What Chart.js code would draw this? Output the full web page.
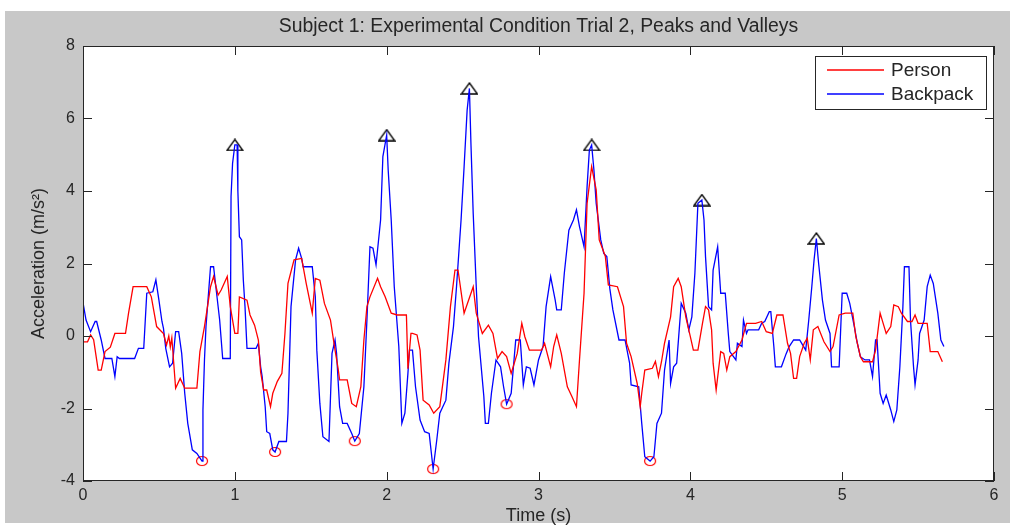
<!DOCTYPE html>
<html>
<head>
<meta charset="utf-8">
<script src="https://cdn.jsdelivr.net/npm/chart.js@4.4.1/dist/chart.umd.min.js"></script>
<style>
  html, body { margin: 0; padding: 0; background: #fff; }
  #wrap { width: 1010px; height: 527px; }
</style>
</head>
<body>
<div id="wrap"><canvas id="accel-chart" width="1010" height="527"></canvas></div>
<script>
// Acceleration traces (time in s, acceleration in m/s^2)
const personTime = [
  0.00, 0.03, 0.05, 0.07, 0.10, 0.12, 0.145, 0.18, 0.21, 0.28, 0.30, 0.33, 0.42, 0.45, 0.485,
  0.53, 0.55, 0.565, 0.575, 0.585, 0.61, 0.64, 0.67, 0.75, 0.77, 0.80, 0.84, 0.86, 0.89, 0.91,
  0.95, 0.97, 1.00, 1.02, 1.03, 1.08, 1.10, 1.13, 1.155, 1.17, 1.19, 1.21, 1.235, 1.25, 1.28,
  1.31, 1.33, 1.35, 1.39, 1.44, 1.47, 1.51, 1.53, 1.56, 1.59, 1.63, 1.66, 1.68, 1.69, 1.74,
  1.77, 1.80, 1.83, 1.85, 1.87, 1.89, 1.94, 1.96, 1.99, 2.03, 2.07, 2.13, 2.14, 2.16, 2.17,
  2.20, 2.22, 2.24, 2.28, 2.31, 2.35, 2.39, 2.42, 2.45, 2.47, 2.51, 2.57, 2.59, 2.63, 2.67,
  2.70, 2.73, 2.76, 2.79, 2.82, 2.86, 2.89, 2.91, 2.94, 3.02, 3.04, 3.08, 3.10, 3.12, 3.15,
  3.19, 3.22, 3.25, 3.27, 3.30, 3.32, 3.35, 3.38, 3.40, 3.44, 3.46, 3.52, 3.56, 3.58, 3.61,
  3.65, 3.67, 3.68, 3.70, 3.75, 3.77, 3.79, 3.81, 3.83, 3.87, 3.89, 3.92, 3.94, 3.97, 4.00,
  4.02, 4.05, 4.08, 4.10, 4.12, 4.14, 4.15, 4.17, 4.20, 4.22, 4.24, 4.26, 4.30, 4.34, 4.37,
  4.43, 4.47, 4.50, 4.54, 4.57, 4.61, 4.64, 4.66, 4.68, 4.70, 4.72, 4.75, 4.77, 4.79, 4.81,
  4.84, 4.88, 4.92, 4.94, 4.98, 5.02, 5.07, 5.09, 5.12, 5.14, 5.20, 5.22, 5.25, 5.27, 5.29,
  5.32, 5.34, 5.37, 5.39, 5.43, 5.46, 5.48, 5.50, 5.56, 5.58, 5.63, 5.66
];
const personAccel = [
  -0.16, -0.16, 0.03, -0.10, -0.94, -0.94, -0.43, -0.31, 0.07, 0.07, 0.63, 1.36, 1.36, 1.08, 0.26,
  0.07, -0.25, 0.00, -0.30, -0.05, -1.44, -1.17, -1.44, -1.44, -0.43, 0.26, 1.36, 1.64, 1.13, 1.27,
  1.64, 0.81, 0.07, 0.07, 1.08, 0.99, 0.58, 0.30, -0.11, -1.00, -1.49, -1.49, -1.95, -1.58, -1.25,
  -1.03, 0.07, 1.45, 2.10, 2.14, 1.45, 0.63, 1.59, 1.54, 0.90, 0.44, -0.39, -0.89, -1.21, -1.21,
  -1.86, -1.95, -1.40, -0.11, 0.81, 1.08, 1.59, 1.36, 1.08, 0.63, 0.58, 0.58, -0.90, 0.07, 0.07,
  0.03, -0.39, -1.77, -1.90, -2.13, -1.95, -0.66, 0.81, 1.82, 1.82, 0.63, 1.36, 0.63, 0.07, 0.30,
  0.07, -0.62, -0.43, -0.57, -1.03, -0.48, 0.35, -0.02, -0.39, -0.39, -0.20, -0.85, -0.29, 0.03, -0.48,
  -1.40, -1.67, -1.95, -0.66, 1.18, 3.66, 4.67, 4.03, 2.65, 2.20, 1.41, 1.36, 0.81, -0.20, -0.57,
  -1.31, -1.95, -1.58, -0.94, -0.89, -0.70, -1.12, -0.71, -0.20, 0.53, 1.36, 1.59, 1.36, 0.53, -0.02,
  -0.39, -0.39, 0.35, 0.81, 0.72, 0.17, -0.75, -1.49, -0.43, -0.48, -0.94, -0.57, -0.43, -0.11, 0.35,
  0.35, 0.40, 0.12, 0.07, 0.58, 0.58, -0.20, -0.48, -1.17, -1.17, -0.57, -0.20, -0.06, -0.66, 0.17,
  0.26, -0.16, -0.43, -0.29, 0.58, 0.63, 0.63, -0.02, -0.57, -0.71, -0.71, -0.39, 0.63, 0.35, 0.07,
  0.26, 0.86, 0.81, 0.63, 0.40, 0.40, 0.58, 0.35, 0.35, -0.43, -0.43, -0.71
];

const backpackTime = [
  0.00, 0.02, 0.05, 0.08, 0.09, 0.12, 0.145, 0.19, 0.21, 0.225, 0.24, 0.34, 0.365, 0.40, 0.42,
  0.46, 0.48, 0.50, 0.52, 0.53, 0.545, 0.57, 0.59, 0.61, 0.63, 0.65, 0.67, 0.69, 0.72, 0.75,
  0.784, 0.79, 0.80, 0.81, 0.84, 0.86, 0.875, 0.90, 0.92, 0.96, 0.97, 0.975, 0.985, 1.00, 1.015,
  1.02, 1.03, 1.045, 1.056, 1.067, 1.08, 1.14, 1.155, 1.17, 1.18, 1.20, 1.21, 1.23, 1.25, 1.265,
  1.29, 1.34, 1.35, 1.37, 1.40, 1.42, 1.44, 1.45, 1.51, 1.53, 1.54, 1.56, 1.58, 1.62, 1.64,
  1.66, 1.67, 1.69, 1.71, 1.74, 1.77, 1.79, 1.82, 1.85, 1.87, 1.89, 1.91, 1.93, 1.96, 1.975,
  2.00, 2.01, 2.03, 2.05, 2.08, 2.10, 2.12, 2.14, 2.15, 2.17, 2.19, 2.22, 2.25, 2.28, 2.306,
  2.33, 2.35, 2.39, 2.41, 2.44, 2.46, 2.49, 2.51, 2.53, 2.545, 2.555, 2.57, 2.59, 2.605, 2.64,
  2.65, 2.67, 2.69, 2.72, 2.75, 2.77, 2.79, 2.82, 2.85, 2.88, 2.90, 2.92, 2.945, 2.97, 3.00,
  3.03, 3.05, 3.08, 3.11, 3.12, 3.15, 3.17, 3.20, 3.23, 3.25, 3.27, 3.30, 3.32, 3.335, 3.35,
  3.365, 3.38, 3.41, 3.43, 3.45, 3.47, 3.49, 3.53, 3.57, 3.60, 3.61, 3.66, 3.68, 3.70, 3.735,
  3.76, 3.78, 3.81, 3.83, 3.86, 3.87, 3.89, 3.91, 3.94, 3.97, 3.99, 4.01, 4.03, 4.05, 4.076,
  4.09, 4.10, 4.12, 4.14, 4.15, 4.18, 4.20, 4.23, 4.25, 4.26, 4.30, 4.31, 4.34, 4.35, 4.37,
  4.38, 4.45, 4.47, 4.49, 4.52, 4.53, 4.55, 4.56, 4.60, 4.63, 4.65, 4.68, 4.72, 4.76, 4.78,
  4.80, 4.815, 4.83, 4.845, 4.87, 4.89, 4.92, 4.93, 4.98, 5.00, 5.03, 5.05, 5.08, 5.10, 5.12,
  5.15, 5.18, 5.20, 5.22, 5.23, 5.25, 5.27, 5.29, 5.32, 5.34, 5.36, 5.38, 5.40, 5.41, 5.44,
  5.45, 5.47, 5.48, 5.50, 5.51, 5.54, 5.56, 5.58, 5.60, 5.63, 5.65, 5.67
];
const backpackAccel = [
  0.92, 0.44, 0.12, 0.40, 0.40, -0.11, -0.62, -0.62, -1.12, -0.57, -0.62, -0.62, -0.34, -0.34, 1.18,
  1.22, 1.55, 0.99, 0.40, 0.21, -0.34, -0.85, -0.75, 0.12, 0.12, -0.48, -1.58, -2.41, -3.14, -3.24,
  -3.45, -2.04, -0.66, 0.26, 1.91, 1.91, 1.36, 0.44, -0.62, -0.62, -0.62, 3.84, 4.76, 5.27, 5.27,
  4.00, 2.74, 2.65, 1.54, 0.81, -0.34, -0.34, -0.20, -0.85, -1.12, -1.95, -2.64, -2.69, -3.14, -3.20,
  -2.91, -2.91, -2.13, 0.81, 2.10, 2.42, 2.14, 1.91, 1.91, 1.08, -0.39, -1.86, -2.78, -2.91, -0.48,
  -0.11, -0.48, -1.95, -2.41, -2.41, -2.69, -2.90, -2.69, -1.40, 0.44, 2.46, 2.42, 1.96, 3.20, 4.95,
  5.54, 4.58, 3.20, 1.36, -0.29, -2.41, -2.13, -1.03, -0.39, -0.39, -1.40, -2.32, -2.64, -2.69, -3.67,
  -2.87, -2.13, -1.77, -0.75, 0.26, 1.36, 3.20, 4.67, 6.23, 6.83, 5.31, 3.38, 1.36, -0.02, -1.67,
  -2.41, -2.41, -1.58, -0.66, -0.85, -1.40, -1.88, -1.58, -0.11, -0.11, -1.35, -0.85, -0.89, -1.35, -0.66,
  -0.29, 0.81, 1.64, 0.99, 0.72, 0.72, 1.73, 2.92, 3.20, 3.48, 3.02, 2.46, 4.12, 5.13, 5.27,
  4.58, 3.66, 2.65, 2.28, 2.19, 1.30, 0.72, -0.11, -0.11, -0.75, -1.35, -1.40, -2.41, -3.33, -3.45,
  -3.33, -2.41, -2.13, -0.94, -0.11, -1.31, -0.85, -0.75, 0.90, 0.63, 0.17, 0.53, 1.73, 3.66, 3.75,
  3.20, 2.19, 0.81, 0.72, 1.82, 2.46, 1.18, 1.18, 0.07, -0.43, -0.66, -0.20, -0.29, 0.44, 0.07,
  0.17, 0.17, 0.35, 0.40, 0.67, 0.67, -0.29, -0.85, -0.85, -0.50, -0.30, -0.11, -0.11, -0.39, 0.44,
  1.36, 2.10, 2.69, 2.00, 0.99, 0.44, 0.07, -0.85, -0.85, 1.18, 1.18, 0.90, 0.26, -0.20, -0.57,
  -0.66, -0.66, -1.12, -0.11, -0.11, -1.58, -1.86, -1.63, -2.04, -2.36, -2.04, -0.85, 0.81, 1.91, 1.91,
  0.44, -0.85, -1.35, -0.66, 0.07, 0.44, 1.36, 1.68, 1.45, 0.63, -0.11, -0.29
];

// detected extrema of the backpack trace
const peakTime = [1.00, 2.00, 2.545, 3.35, 4.076, 4.83];
const peakAccel = [5.27, 5.54, 6.83, 5.27, 3.75, 2.69];
const valleyTime = [0.784, 1.265, 1.79, 2.306, 2.79, 3.735];
const valleyAccel = [-3.45, -3.20, -2.90, -3.67, -1.88, -3.45];

const FONT = "'Liberation Sans', Arial, Helvetica, sans-serif";
const INK = '#262626';

const toPoints = (xs, ys) => xs.map((x, i) => ({ x, y: ys[i] }));

// small offscreen canvases used as point styles (open triangle, open circle)
function markerCanvas(w, h, draw) {
  const c = document.createElement('canvas');
  c.width = w + 2;
  c.height = h + 2;
  draw(c.getContext('2d'), w, h);
  return c;
}
const triangleMarker = markerCanvas(16, 11, (ctx, w, h) => {
  ctx.strokeStyle = '#000';
  ctx.lineWidth = 1.3;
  ctx.beginPath();
  ctx.moveTo(1 + w / 2, 1);
  ctx.lineTo(1 + w, 1 + h);
  ctx.lineTo(1, 1 + h);
  ctx.closePath();
  ctx.stroke();
});
const circleMarker = markerCanvas(12, 10, (ctx, w, h) => {
  ctx.strokeStyle = '#ff0000';
  ctx.lineWidth = 1.2;
  ctx.beginPath();
  ctx.ellipse(1 + w / 2, 1 + h / 2, w / 2 - 0.5, h / 2 - 0.5, 0, 0, Math.PI * 2);
  ctx.stroke();
});

// grey figure, boxed axes with inward ticks, legend inside the top-right corner
const matlabAxes = {
  id: 'matlabAxes',
  beforeDraw(chart) {
    const { ctx, chartArea: a, width, height } = chart;
    ctx.save();
    ctx.fillStyle = '#ffffff';
    ctx.fillRect(0, 0, width, height);
    ctx.fillStyle = '#c8c8c8';
    ctx.fillRect(5, 11, width - 5, 512);
    ctx.fillStyle = '#ffffff';
    ctx.fillRect(a.left, a.top, a.right - a.left, a.bottom - a.top);
    ctx.restore();
  },
  afterDatasetsDraw(chart) {
    const { ctx, chartArea: a, scales: { x, y } } = chart;
    const len = 9;
    ctx.save();
    ctx.strokeStyle = INK;
    ctx.lineWidth = 1;
    ctx.beginPath();
    x.ticks.forEach(t => {
      const px = Math.round(x.getPixelForValue(t.value)) + 0.5;
      ctx.moveTo(px, a.bottom); ctx.lineTo(px, a.bottom - len);
      ctx.moveTo(px, a.top); ctx.lineTo(px, a.top + len);
    });
    y.ticks.forEach(t => {
      const py = Math.round(y.getPixelForValue(t.value)) + 0.5;
      ctx.moveTo(a.left, py); ctx.lineTo(a.left + len, py);
      ctx.moveTo(a.right, py); ctx.lineTo(a.right - len, py);
    });
    ctx.stroke();
    ctx.strokeRect(a.left + 0.5, a.top + 0.5, a.right - a.left - 1, a.bottom - a.top - 1);

    const entries = chart.data.datasets.filter(ds => ds.showLine !== false);
    const bx = a.right - 179, by = a.top + 10, bw = 171, bh = 53;
    ctx.fillStyle = '#ffffff';
    ctx.fillRect(bx, by, bw, bh);
    ctx.strokeRect(bx + 0.5, by + 0.5, bw, bh);
    ctx.font = `19px ${FONT}`;
    ctx.textBaseline = 'middle';
    entries.forEach((ds, i) => {
      const cy = by + 14 + i * 24;
      ctx.strokeStyle = ds.borderColor;
      ctx.lineWidth = 1.3;
      ctx.beginPath();
      ctx.moveTo(bx + 12, cy);
      ctx.lineTo(bx + 69, cy);
      ctx.stroke();
      ctx.fillStyle = INK;
      ctx.fillText(ds.label, bx + 76, cy + 1);
    });
    ctx.restore();
  }
};

new Chart(document.getElementById('accel-chart'), {
  type: 'line',
  data: {
    datasets: [
      {
        label: 'Person',
        data: toPoints(personTime, personAccel),
        borderColor: '#ff0000',
        borderWidth: 1.3,
        pointRadius: 0,
        tension: 0,
      },
      {
        label: 'Backpack',
        data: toPoints(backpackTime, backpackAccel),
        borderColor: '#0000ff',
        borderWidth: 1.3,
        pointRadius: 0,
        tension: 0,
      },
      {
        label: 'Peaks',
        data: toPoints(peakTime, peakAccel),
        showLine: false,
        pointStyle: triangleMarker,
        pointRadius: 8,
      },
      {
        label: 'Valleys',
        data: toPoints(valleyTime, valleyAccel),
        showLine: false,
        pointStyle: circleMarker,
        pointRadius: 6,
      },
    ],
  },
  options: {
    responsive: false,
    animation: false,
    events: [],
    layout: { padding: { left: 0, right: 16, top: 0, bottom: 0 } },
    plugins: {
      legend: { display: false },
      tooltip: { enabled: false },
      title: {
        display: true,
        fullSize: false,
        text: 'Subject 1: Experimental Condition Trial 2, Peaks and Valleys',
        color: INK,
        font: { family: FONT, size: 19.4, weight: 'normal' },
        padding: { top: 15, bottom: 7.72 },
      },
    },
    scales: {
      x: {
        type: 'linear',
        min: 0,
        max: 6,
        ticks: { stepSize: 1, color: INK, font: { family: FONT, size: 16 }, padding: 5, maxRotation: 0, autoSkip: false },
        grid: { display: false, drawTicks: false, tickLength: 0 },
        border: { display: false },
        title: {
          display: true,
          text: 'Time (s)',
          color: INK,
          font: { family: FONT, size: 18 },
          padding: { top: 0, bottom: 0 },
        },
        afterFit(scale) { scale.height = 46; },
      },
      y: {
        min: -4,
        max: 8,
        ticks: { stepSize: 2, color: INK, font: { family: FONT, size: 16 }, padding: 8 },
        grid: { display: false, drawTicks: false, tickLength: 0 },
        border: { display: false },
        title: {
          display: true,
          text: 'Acceleration (m/s²)',
          color: INK,
          font: { family: FONT, size: 18 },
          padding: { top: 28, bottom: 0 },
        },
        afterFit(scale) { scale.width = 83; },
      },
    },
  },
  plugins: [matlabAxes],
});
</script>
</body>
</html>
